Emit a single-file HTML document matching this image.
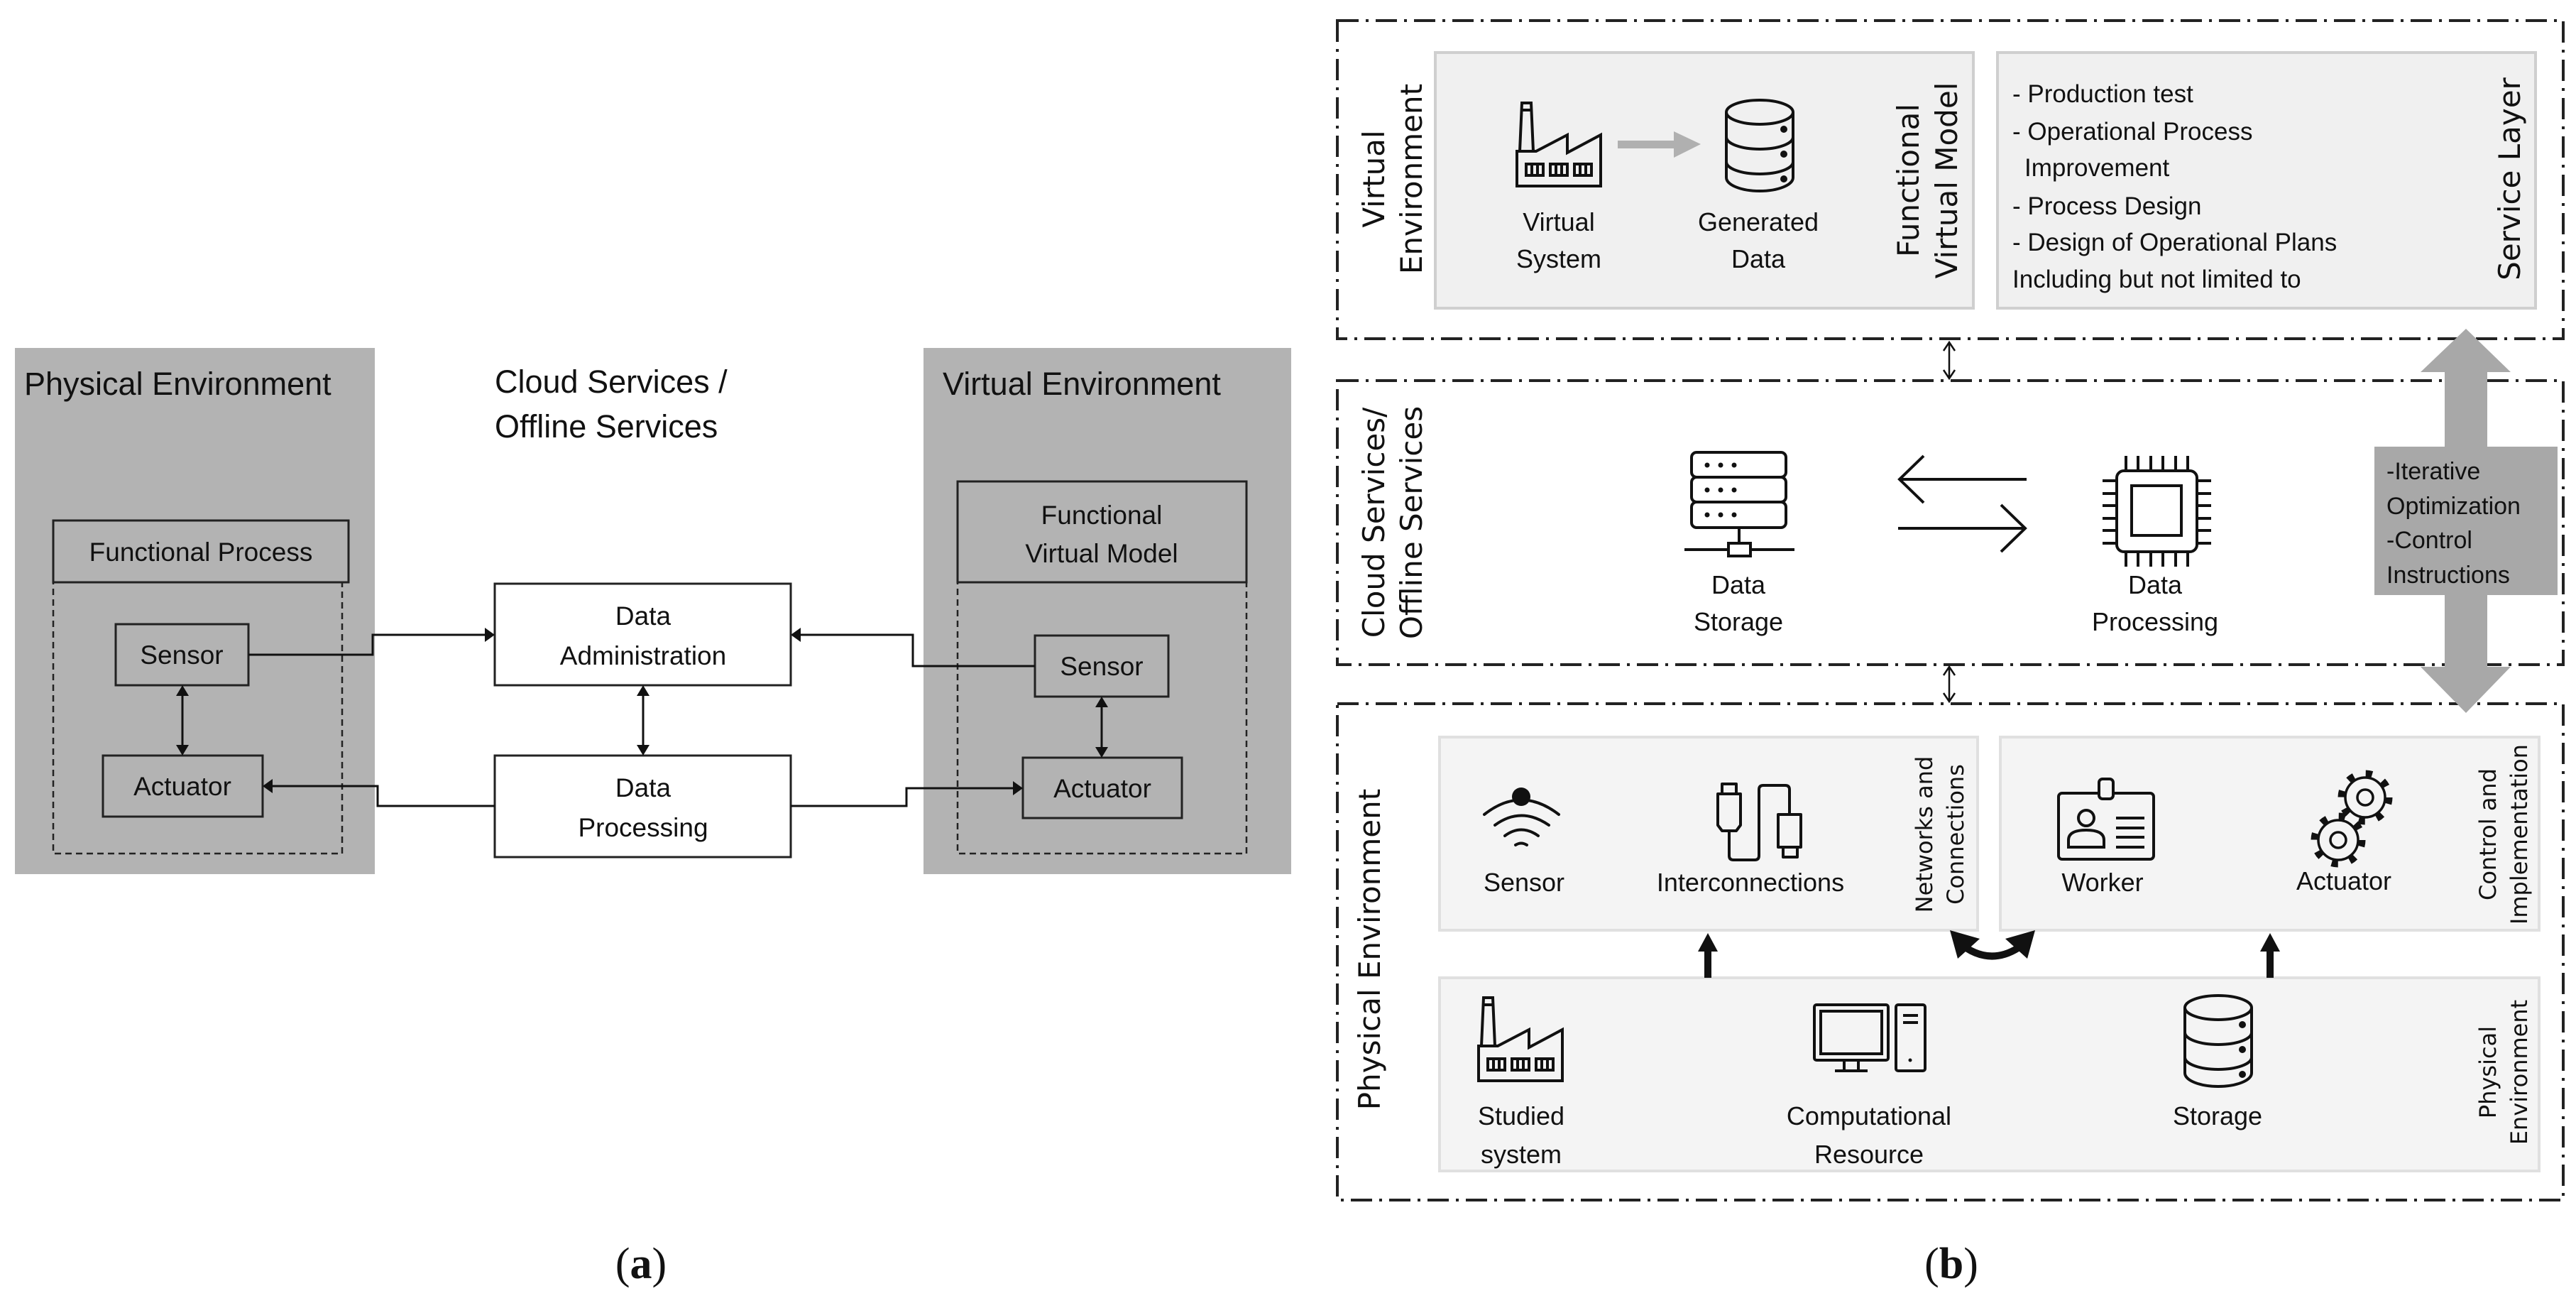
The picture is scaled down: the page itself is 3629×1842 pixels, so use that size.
<!DOCTYPE html>
<html><head><meta charset="utf-8"><style>
html,body{margin:0;padding:0;background:#fff}
svg{display:block}
.t{font-family:"Liberation Sans",sans-serif;fill:#111}
.v{font-family:"DejaVu Sans",sans-serif;fill:#111}
</style></head><body>
<svg width="3629" height="1842" viewBox="0 0 3629 1842" xmlns="http://www.w3.org/2000/svg">
<defs>
<marker id="ah" markerWidth="10" markerHeight="10" refX="9" refY="5" orient="auto-start-reverse" markerUnits="userSpaceOnUse" viewBox="0 0 10 10">
</marker>
<g id="factory" fill="none" stroke="#111" stroke-width="4" stroke-linejoin="miter">
<path d="M0,119 V70 H27 L71,47 V72 L118,47 V119 Z"/>
<path d="M4,70 L7,2 H20 L23,70"/><path d="M7,12 H20"/>
<rect x="13" y="88" width="24" height="16"/><path d="M21,88V104M29,88V104"/>
<rect x="47" y="88" width="24" height="16"/><path d="M55,88V104M63,88V104"/>
<rect x="81" y="88" width="24" height="16"/><path d="M89,88V104M97,88V104"/>
</g>
<g id="db" fill="none" stroke="#111" stroke-width="4">
<path d="M2,20 V112 A47,19 0 0 0 96,112 V20"/>
<ellipse cx="49" cy="20" rx="47" ry="17"/>
<path d="M2,55 A47,17 0 0 0 96,55 M2,90 A47,17 0 0 0 96,90"/>
<circle cx="83" cy="44" r="3" fill="#111"/><circle cx="83" cy="79" r="3" fill="#111"/><circle cx="83" cy="114" r="3" fill="#111"/>
</g>
<g id="gear">
<circle r="33" fill="none" stroke="#111" stroke-width="11" stroke-dasharray="9 17"/>
<circle r="28" fill="#f4f4f4" stroke="#111" stroke-width="3.5"/>
<circle r="11" fill="none" stroke="#111" stroke-width="3.5"/>
</g>
</defs>

<!-- ========== PANEL A ========== -->
<rect x="21" y="490" width="507" height="741" fill="#b3b3b3"/>
<rect x="1301" y="490" width="518" height="741" fill="#b3b3b3"/>
<text class="t" x="34" y="556" font-size="45">Physical Environment</text>
<text class="t" x="1328" y="556" font-size="45">Virtual Environment</text>
<text class="t" x="697" y="553" font-size="45">Cloud Services /</text>
<text class="t" x="697" y="616" font-size="45">Offline Services</text>

<rect x="75" y="733" width="416" height="87" fill="#b3b3b3" stroke="#222" stroke-width="3"/>
<text class="t" x="283" y="790" font-size="37" text-anchor="middle">Functional Process</text>
<rect x="75" y="820" width="407" height="382" fill="none" stroke="#222" stroke-width="2.5" stroke-dasharray="9 6"/>
<rect x="163" y="879" width="187" height="86" fill="#b3b3b3" stroke="#222" stroke-width="3"/>
<text class="t" x="256" y="935" font-size="37" text-anchor="middle">Sensor</text>
<rect x="145" y="1064" width="225" height="86" fill="#b3b3b3" stroke="#222" stroke-width="3"/>
<text class="t" x="257" y="1120" font-size="37" text-anchor="middle">Actuator</text>

<rect x="1349" y="678" width="407" height="142" fill="#b3b3b3" stroke="#222" stroke-width="3"/>
<text class="t" x="1552" y="738" font-size="37" text-anchor="middle">Functional</text>
<text class="t" x="1552" y="792" font-size="37" text-anchor="middle">Virtual Model</text>
<rect x="1349" y="820" width="407" height="382" fill="none" stroke="#222" stroke-width="2.5" stroke-dasharray="9 6"/>
<rect x="1458" y="895" width="188" height="86" fill="#b3b3b3" stroke="#222" stroke-width="3"/>
<text class="t" x="1552" y="951" font-size="37" text-anchor="middle">Sensor</text>
<rect x="1441" y="1067" width="224" height="85" fill="#b3b3b3" stroke="#222" stroke-width="3"/>
<text class="t" x="1553" y="1123" font-size="37" text-anchor="middle">Actuator</text>

<rect x="697" y="822" width="417" height="143" fill="#fff" stroke="#222" stroke-width="3"/>
<text class="t" x="906" y="880" font-size="37" text-anchor="middle">Data</text>
<text class="t" x="906" y="936" font-size="37" text-anchor="middle">Administration</text>
<rect x="697" y="1064" width="417" height="143" fill="#fff" stroke="#222" stroke-width="3"/>
<text class="t" x="906" y="1122" font-size="37" text-anchor="middle">Data</text>
<text class="t" x="906" y="1178" font-size="37" text-anchor="middle">Processing</text>

<g stroke="#111" stroke-width="3" fill="none">
<path d="M350,922 H525 V894 H684"/>
<path d="M1458,938 H1286 V894 H1127"/>
<path d="M697,1135 H532 V1107 H383"/>
<path d="M1114,1135 H1277 V1110 H1428"/>
<path d="M257,978 V1051"/>
<path d="M906,978 V1051"/>
<path d="M1552,994 V1054"/>
</g>
<g fill="#111">
<path d="M697,894 l-14,-10 v20 z"/>
<path d="M1114,894 l14,-10 v20 z"/>
<path d="M370,1107 l14,-10 v20 z"/>
<path d="M1441,1110 l-14,-10 v20 z"/>
<path d="M257,965 l-9,15 h18 z"/><path d="M257,1064 l-9,-15 h18 z"/>
<path d="M906,965 l-9,15 h18 z"/><path d="M906,1064 l-9,-15 h18 z"/>
<path d="M1552,981 l-9,15 h18 z"/><path d="M1552,1067 l-9,-15 h18 z"/>
</g>
<text x="903" y="1800" font-family="Liberation Serif,serif" font-size="62" text-anchor="middle" fill="#111">(<tspan font-weight="bold">a</tspan>)</text>

<!-- ========== PANEL B ========== -->
<g fill="none" stroke="#222" stroke-width="4" stroke-dasharray="30 10 4 10">
<rect x="1884" y="29" width="1727" height="448"/>
<rect x="1884" y="536" width="1727" height="400"/>
<rect x="1884" y="991" width="1727" height="699"/>
</g>

<!-- Virtual env -->
<rect x="2022" y="74" width="758" height="360" fill="#f0f0f0" stroke="#cfcfcf" stroke-width="4"/>
<rect x="2814" y="74" width="758" height="360" fill="#f0f0f0" stroke="#cfcfcf" stroke-width="4"/>
<g transform="translate(1950,252) rotate(-90)"><text class="v" font-size="42" text-anchor="middle">Virtual</text></g>
<g transform="translate(2003,252) rotate(-90)"><text class="v" font-size="42" text-anchor="middle">Environment</text></g>
<use href="#factory" x="2137" y="143"/>
<path d="M2279,198 H2358 V185 L2396,203 L2358,222 V209 H2279 Z" fill="#b0b0b0"/>
<use href="#db" x="2430" y="138"/>
<text class="t" x="2196" y="325" font-size="36" text-anchor="middle">Virtual</text>
<text class="t" x="2196" y="377" font-size="36" text-anchor="middle">System</text>
<text class="t" x="2477" y="325" font-size="36" text-anchor="middle">Generated</text>
<text class="t" x="2477" y="377" font-size="36" text-anchor="middle">Data</text>
<g transform="translate(2703,254) rotate(-90)"><text class="v" font-size="42" text-anchor="middle">Functional</text></g>
<g transform="translate(2757,254) rotate(-90)"><text class="v" font-size="42" text-anchor="middle">Virtual Model</text></g>
<g class="t" font-size="35">
<text x="2835" y="144">- Production test</text>
<text x="2835" y="197">- Operational Process</text>
<text x="2852" y="248">Improvement</text>
<text x="2835" y="302">- Process Design</text>
<text x="2835" y="353">- Design of Operational Plans</text>
<text x="2835" y="405">Including but not limited to</text>
</g>
<g transform="translate(3550,252) rotate(-90)"><text class="v" font-size="42" text-anchor="middle">Service Layer</text></g>

<!-- small double arrows between layers -->
<g stroke="#111" stroke-width="2.5" fill="none">
<path d="M2746,482 V533 M2738,494 L2746,482 L2754,494 M2738,521 L2746,533 L2754,521"/>
<path d="M2746,939 V988 M2738,951 L2746,939 L2754,951 M2738,976 L2746,988 L2754,976"/>
</g>

<!-- Cloud -->
<g transform="translate(1950,736) rotate(-90)"><text class="v" font-size="42" text-anchor="middle">Cloud Services/</text></g>
<g transform="translate(2003,736) rotate(-90)"><text class="v" font-size="42" text-anchor="middle">Offline Services</text></g>
<g fill="none" stroke="#111" stroke-width="4">
<rect x="2383" y="637" width="133" height="35" rx="7"/>
<rect x="2383" y="672" width="133" height="35" rx="7"/>
<rect x="2383" y="707" width="133" height="36" rx="7"/>
<path d="M2450,743 V765 M2373,774 H2435 M2466,774 H2528"/>
<rect x="2435" y="765" width="31" height="18"/>
<path d="M2855,675 H2676 M2710,642 L2676,675 L2710,708"/>
<path d="M2674,744 H2853 M2819,711 L2853,744 L2819,777"/>
<rect x="2982" y="663" width="113" height="114" rx="10"/>
<rect x="3003" y="684" width="70" height="70"/>
<path d="M2995,642V663M3012,642V663M3030,642V663M3047,642V663M3065,642V663M3082,642V663"/>
<path d="M2995,777V798M3012,777V798M3030,777V798M3047,777V798M3065,777V798M3082,777V798"/>
<path d="M2962,677H2982M2962,695H2982M2962,712H2982M2962,730H2982M2962,747H2982M2962,765H2982"/>
<path d="M3095,677H3115M3095,695H3115M3095,712H3115M3095,730H3115M3095,747H3115M3095,765H3115"/>
</g>
<circle cx="2405" cy="655" r="3.5" fill="#111"/><circle cx="2424" cy="655" r="3.5" fill="#111"/><circle cx="2443" cy="655" r="3.5" fill="#111"/>
<circle cx="2405" cy="690" r="3.5" fill="#111"/><circle cx="2424" cy="690" r="3.5" fill="#111"/><circle cx="2443" cy="690" r="3.5" fill="#111"/>
<circle cx="2405" cy="725" r="3.5" fill="#111"/><circle cx="2424" cy="725" r="3.5" fill="#111"/><circle cx="2443" cy="725" r="3.5" fill="#111"/>
<text class="t" x="2449" y="836" font-size="36" text-anchor="middle">Data</text>
<text class="t" x="2449" y="888" font-size="36" text-anchor="middle">Storage</text>
<text class="t" x="3036" y="836" font-size="36" text-anchor="middle">Data</text>
<text class="t" x="3036" y="888" font-size="36" text-anchor="middle">Processing</text>

<!-- big gray double arrow -->
<path d="M3474,463 L3537,524 H3504 V939 H3537 L3474,1004 L3410,939 H3444 V524 H3410 Z" fill="#a8a8a8"/>
<rect x="3345" y="629" width="258" height="209" fill="#a8a8a8"/>
<g class="t" font-size="34">
<text x="3362" y="675">-Iterative</text>
<text x="3362" y="724">Optimization</text>
<text x="3362" y="772">-Control</text>
<text x="3362" y="821">Instructions</text>
</g>

<!-- Physical env -->
<g transform="translate(1944,1337) rotate(-90)"><text class="v" font-size="42" text-anchor="middle">Physical Environment</text></g>
<rect x="2028" y="1038" width="758" height="272" fill="#f4f4f4" stroke="#e0e0e0" stroke-width="4"/>
<rect x="2818" y="1038" width="759" height="272" fill="#f4f4f4" stroke="#e0e0e0" stroke-width="4"/>
<rect x="2028" y="1377" width="1549" height="272" fill="#f4f4f4" stroke="#e0e0e0" stroke-width="4"/>

<!-- sensor icon -->
<g fill="none" stroke="#111" stroke-width="4" stroke-linecap="round">
<path d="M2091,1147 Q2143,1106 2196,1147"/>
<path d="M2106,1162 Q2143,1135 2182,1162"/>
<path d="M2120,1177 Q2143,1160 2167,1177"/>
<path d="M2135,1190 Q2143,1185 2151,1190"/>
</g>
<circle cx="2143" cy="1122" r="13" fill="#111"/>
<!-- interconnections -->
<g fill="none" stroke="#111" stroke-width="4" stroke-linejoin="round">
<rect x="2426" y="1104" width="20" height="14"/>
<path d="M2420,1118 H2452 V1162 L2446,1170 H2426 L2420,1162 Z"/>
<path d="M2436,1170 V1205 Q2436,1211 2442,1211 H2472 Q2478,1211 2478,1205 V1112 Q2478,1106 2484,1106 H2515 Q2521,1106 2521,1112 V1147"/>
<path d="M2505,1147 H2537 V1193 H2505 Z"/>
<rect x="2512" y="1193" width="20" height="14"/>
</g>
<text class="t" x="2147" y="1255" font-size="36" text-anchor="middle">Sensor</text>
<text class="t" x="2466" y="1255" font-size="36" text-anchor="middle">Interconnections</text>
<g transform="translate(2722,1175) rotate(-90)"><text class="v" font-size="32" text-anchor="middle">Networks and</text></g>
<g transform="translate(2766,1175) rotate(-90)"><text class="v" font-size="32" text-anchor="middle">Connections</text></g>

<!-- worker -->
<g fill="none" stroke="#111" stroke-width="4">
<rect x="2900" y="1117" width="134" height="93" rx="5"/>
<rect x="2957" y="1097" width="20" height="28" rx="5" fill="#f4f4f4"/>
<circle cx="2939" cy="1152" r="11"/>
<path d="M2914,1193 V1183 Q2914,1169 2939,1169 Q2964,1169 2964,1183 V1193 Z"/>
<path d="M2981,1152 H3021 M2981,1166 H3021 M2981,1179 H3021 M2981,1193 H3021"/>
</g>
<use href="#gear" x="3332" y="1123"/>
<use href="#gear" x="3294" y="1183"/>
<text class="t" x="2962" y="1255" font-size="36" text-anchor="middle">Worker</text>
<text class="t" x="3302" y="1253" font-size="36" text-anchor="middle">Actuator</text>
<g transform="translate(3516,1175) rotate(-90)"><text class="v" font-size="32" text-anchor="middle">Control and</text></g>
<g transform="translate(3560,1175) rotate(-90)"><text class="v" font-size="32" text-anchor="middle">Implementation</text></g>

<!-- arrows between rows -->
<path d="M2401,1377 V1340 H2392 L2406,1314 L2420,1340 H2411 V1377 Z" fill="#111"/>
<path d="M3193,1377 V1340 H3184 L3198,1314 L3212,1340 H3203 V1377 Z" fill="#111"/>
<path d="M2770,1335 Q2806,1358 2843,1335" fill="none" stroke="#111" stroke-width="10"/>
<path d="M2747,1310 L2789,1322 L2758,1350 Z" fill="#111"/>
<path d="M2867,1310 L2825,1322 L2856,1350 Z" fill="#111"/>

<!-- bottom row -->
<use href="#factory" x="2083" y="1403"/>
<g fill="none" stroke="#111" stroke-width="4">
<rect x="2556" y="1415" width="104" height="78" rx="3"/>
<rect x="2565" y="1424" width="86" height="60"/>
<path d="M2598,1493 V1508 M2618,1493 V1508 M2585,1508 H2631"/>
<rect x="2671" y="1415" width="41" height="93" rx="3"/>
<path d="M2681,1430 H2702 M2681,1440 H2702"/>
</g>
<circle cx="2691" cy="1493" r="2.5" fill="#111"/>
<use href="#db" x="3076" y="1399"/>
<text class="t" x="2143" y="1584" font-size="36" text-anchor="middle">Studied</text>
<text class="t" x="2143" y="1638" font-size="36" text-anchor="middle">system</text>
<text class="t" x="2633" y="1584" font-size="36" text-anchor="middle">Computational</text>
<text class="t" x="2633" y="1638" font-size="36" text-anchor="middle">Resource</text>
<text class="t" x="3124" y="1584" font-size="36" text-anchor="middle">Storage</text>
<g transform="translate(3516,1510) rotate(-90)"><text class="v" font-size="32" text-anchor="middle">Physical</text></g>
<g transform="translate(3560,1510) rotate(-90)"><text class="v" font-size="32" text-anchor="middle">Environment</text></g>

<text x="2749" y="1800" font-family="Liberation Serif,serif" font-size="62" text-anchor="middle" fill="#111">(<tspan font-weight="bold">b</tspan>)</text>
</svg>
</body></html>
